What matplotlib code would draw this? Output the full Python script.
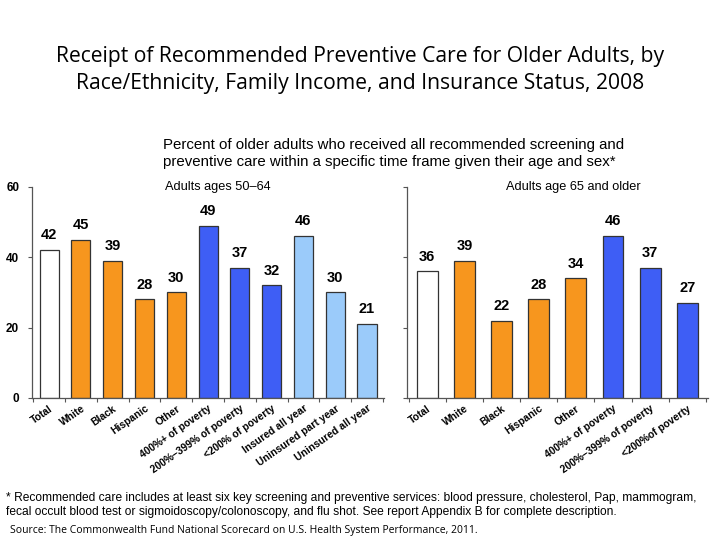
import matplotlib.pyplot as plt

left_cats = ["Total", "White", "Black", "Hispanic", "Other",
             "400%+ of poverty", "200%\u2013399% of poverty", "<200% of poverty",
             "Insured all year", "Uninsured part year", "Uninsured all year"]
left_vals = [42, 45, 39, 28, 30, 49, 37, 32, 46, 30, 21]

right_cats = ["Total", "White", "Black", "Hispanic", "Other",
              "400%+ of poverty", "200%\u2013399% of poverty", "<200%of poverty"]
right_vals = [36, 39, 22, 28, 34, 46, 37, 27]

white, orange, blue, light = "#FFFFFF", "#F7961E", "#3E5EF5", "#9BCBFA"
left_colors = [white] + [orange] * 4 + [blue] * 3 + [light] * 3
right_colors = [white] + [orange] * 4 + [blue] * 3

fig = plt.figure(figsize=(7.2, 5.4), dpi=100)
fig.patch.set_facecolor("white")

fig.text(0.5, 0.870, "Receipt of Recommended Preventive Care for Older Adults, by\n"
         "Race/Ethnicity, Family Income, and Insurance Status, 2008",
         ha="center", va="center", fontsize=15.2, family="Open Sans", linespacing=1.4)
fig.text(0.226, 0.716, "Percent of older adults who received all recommended screening and\n"
         "preventive care within a specific time frame given their age and sex*",
         ha="left", va="center", fontsize=10.8, family="Liberation Sans", linespacing=1.3)


def panel(rect, cats, vals, colors, width, show_labels):
    ax = fig.add_axes(rect)
    x = range(len(cats))
    bars = ax.bar(x, vals, width=width, color=colors, edgecolor="#333333", linewidth=0.9)
    for b, v in zip(bars, vals):
        ax.text(b.get_x() + b.get_width() / 2, v + 2.2, str(v), ha="center", va="bottom",
                fontsize=10.5, fontweight="bold", family="Liberation Sans")
    ax.set_xlim(-0.55, len(cats) - 0.45)
    ax.set_ylim(0, 60)
    ax.set_yticks([0, 20, 40, 60])
    if show_labels:
        ax.set_yticklabels(["0", "20", "40", "60"], fontsize=8.5, fontweight="bold",
                           family="Liberation Sans")
    else:
        ax.set_yticklabels([])
    ax.tick_params(axis="y", length=3, width=0.8, colors="#555555", labelcolor="black", pad=6)
    ax.set_xticks([i - 0.5 for i in range(len(cats) + 1)], minor=False)
    ax.set_xticklabels([])
    ax.tick_params(axis="x", length=3, width=0.8, colors="#555555")
    ax.set_xticks(list(x), minor=True)
    ax.set_xticklabels(cats, minor=True, rotation=35, ha="right", rotation_mode="anchor",
                       fontsize=7.4, fontweight="bold", family="Liberation Sans")
    ax.tick_params(axis="x", which="minor", length=0, pad=4)
    for s in ["top", "right"]:
        ax.spines[s].set_visible(False)
    for s in ["left", "bottom"]:
        ax.spines[s].set_color("#555555")
        ax.spines[s].set_linewidth(0.9)
    return ax


panel([0.044, 0.263, 0.49, 0.391], left_cats, left_vals, left_colors, 0.6, True)
panel([0.565, 0.263, 0.418, 0.391], right_cats, right_vals, right_colors, 0.56, False)

fig.text(0.303, 0.654, "Adults ages 50\u201364", ha="center", va="center",
         fontsize=9.2, family="Liberation Sans")
fig.text(0.796, 0.654, "Adults age 65 and older", ha="center", va="center",
         fontsize=9.2, family="Liberation Sans")

fig.text(0.008, 0.065, "* Recommended care includes at least six key screening and preventive services: "
         "blood pressure, cholesterol, Pap, mammogram,\nfecal occult blood test or "
         "sigmoidoscopy/colonoscopy, and flu shot. See report Appendix B for complete description.",
         ha="left", va="center", fontsize=8.65, family="Liberation Sans", linespacing=1.25)
fig.text(0.014, 0.018, "Source: The Commonwealth Fund National Scorecard on U.S. Health System Performance, 2011.",
         ha="left", va="center", fontsize=7.5, family="Open Sans")

fig.savefig("out.png", dpi=100)
